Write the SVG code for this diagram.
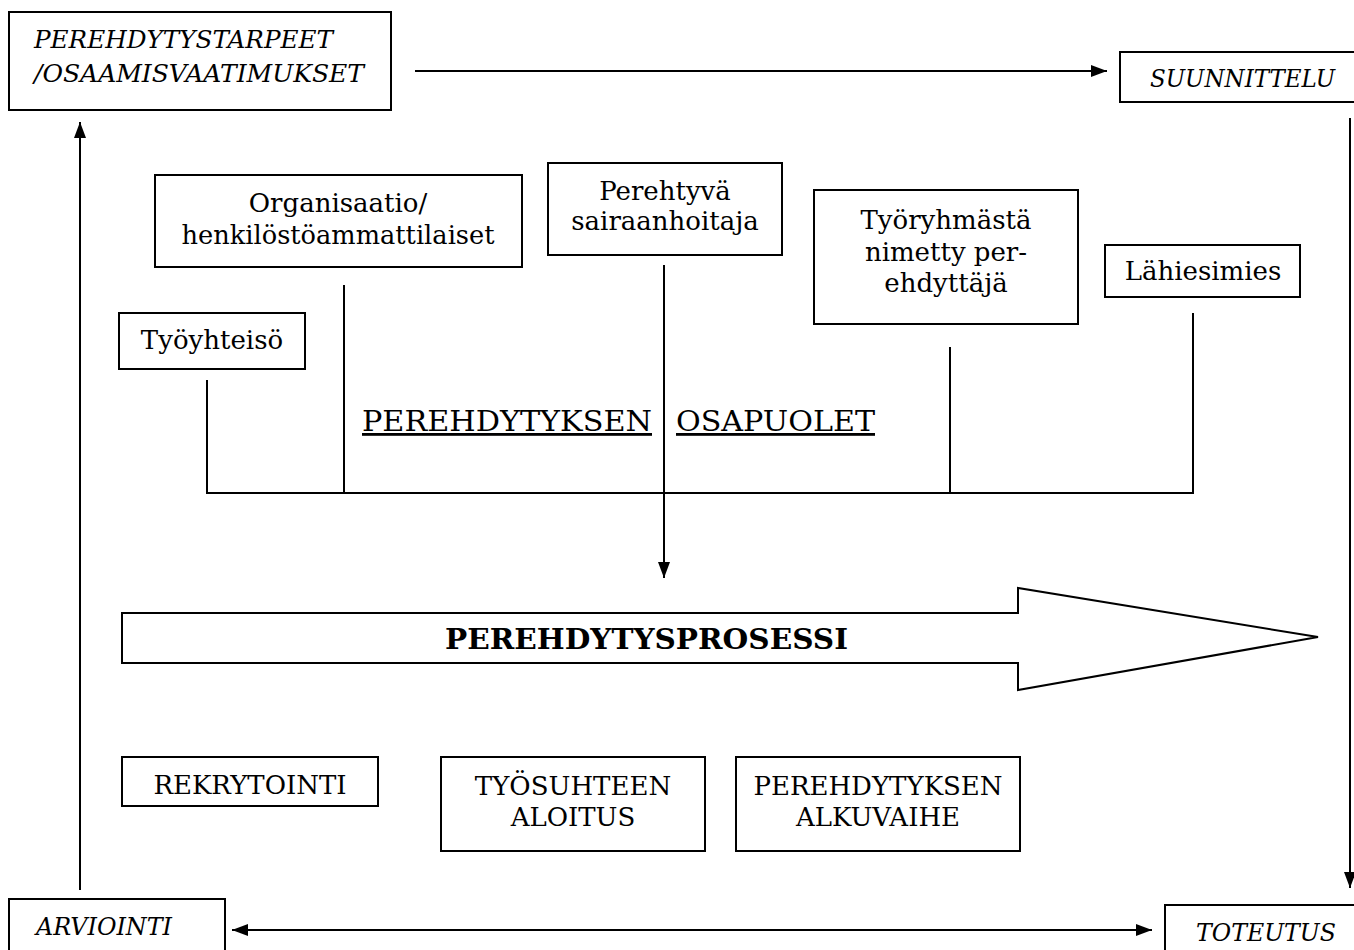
<svg xmlns="http://www.w3.org/2000/svg" width="1354" height="950" viewBox="0 0 1354 950">
<style>
.box{fill:#fff;stroke:#000;stroke-width:2}
.ln{fill:none;stroke:#000;stroke-width:2}
.t{font-family:"DejaVu Serif","Liberation Serif",serif;font-size:26px;fill:#000}
.c{text-anchor:middle}
.i{font-style:italic;font-size:25px}
.u{font-size:28px;text-decoration:underline}
.b{font-weight:bold;font-size:27px}
</style>
<defs>
<marker id="ah2" viewBox="0 0 16 12" refX="16" refY="6" markerWidth="16" markerHeight="12" markerUnits="userSpaceOnUse" orient="auto-start-reverse">
<path d="M0,0 L16,6 L0,12 z" fill="#000"/>
</marker>
</defs>

<g id="connectors">
<line class="ln" x1="415" y1="71" x2="1107" y2="71" marker-end="url(#ah2)"/>
<line class="ln" x1="1350" y1="118" x2="1350" y2="888" marker-end="url(#ah2)"/>
<line class="ln" x1="232" y1="930" x2="1152" y2="930" marker-start="url(#ah2)" marker-end="url(#ah2)"/>
<line class="ln" x1="80" y1="890" x2="80" y2="122" marker-end="url(#ah2)"/>
<line class="ln" x1="664" y1="265" x2="664" y2="578" marker-end="url(#ah2)"/>
<polyline class="ln" points="207,380 207,493 1193,493 1193,313"/>
<line class="ln" x1="344" y1="285" x2="344" y2="493"/>
<line class="ln" x1="950" y1="347" x2="950" y2="493"/>
</g>

<g id="n-tarpeet">
<rect class="box" x="9" y="12" width="382" height="98"/>
<text class="t i" x="34" y="48" textLength="299" lengthAdjust="spacingAndGlyphs">PEREHDYTYSTARPEET</text>
<text class="t i" x="34" y="82" textLength="330" lengthAdjust="spacingAndGlyphs">/OSAAMISVAATIMUKSET</text>
</g>

<g id="n-suunnittelu">
<rect class="box" x="1120" y="52" width="240" height="50"/>
<text class="t i" x="1150" y="87" textLength="185" lengthAdjust="spacingAndGlyphs">SUUNNITTELU</text>
</g>

<g id="n-toteutus">
<rect class="box" x="1165" y="905" width="200" height="50"/>
<text class="t i" x="1196" y="941" textLength="140" lengthAdjust="spacingAndGlyphs">TOTEUTUS</text>
</g>

<g id="n-arviointi">
<rect class="box" x="9" y="899" width="216" height="60"/>
<text class="t i" x="36" y="935" textLength="136" lengthAdjust="spacingAndGlyphs">ARVIOINTI</text>
</g>

<g id="n-organisaatio">
<rect class="box" x="155" y="175" width="367" height="92"/>
<text class="t c" x="338" y="212">Organisaatio/</text>
<text class="t c" x="338" y="244" textLength="313" lengthAdjust="spacingAndGlyphs">henkilöstöammattilaiset</text>
</g>

<g id="n-perehtyva">
<rect class="box" x="548" y="163" width="234" height="92"/>
<text class="t c" x="665" y="200">Perehtyvä</text>
<text class="t c" x="665" y="230">sairaanhoitaja</text>
</g>

<g id="n-tyoryhma">
<rect class="box" x="814" y="190" width="264" height="134"/>
<text class="t c" x="946" y="229">Työryhmästä</text>
<text class="t c" x="946" y="261">nimetty per-</text>
<text class="t c" x="946" y="292">ehdyttäjä</text>
</g>

<g id="n-lahiesimies">
<rect class="box" x="1105" y="245" width="195" height="52"/>
<text class="t c" x="1203" y="280">Lähiesimies</text>
</g>

<g id="n-tyoyhteiso">
<rect class="box" x="119" y="313" width="186" height="56"/>
<text class="t c" x="212" y="349">Työyhteisö</text>
</g>

<g id="label-osapuolet">
<text class="t u" x="362" y="431" textLength="290" lengthAdjust="spacingAndGlyphs">PEREHDYTYKSEN</text>
<text class="t u" x="676" y="431" textLength="199" lengthAdjust="spacingAndGlyphs">OSAPUOLET</text>
</g>

<g id="n-prosessi">
<path class="box" d="M122,613 L1018,613 L1018,588 L1318,637 L1018,690 L1018,663 L122,663 Z"/>
<text class="t b" x="445" y="649" textLength="403" lengthAdjust="spacingAndGlyphs">PEREHDYTYSPROSESSI</text>
</g>

<g id="n-rekrytointi">
<rect class="box" x="122" y="757" width="256" height="49"/>
<text class="t c" x="250" y="794">REKRYTOINTI</text>
</g>

<g id="n-tyosuhteen">
<rect class="box" x="441" y="757" width="264" height="94"/>
<text class="t c" x="573" y="795">TYÖSUHTEEN</text>
<text class="t c" x="573" y="826">ALOITUS</text>
</g>

<g id="n-alkuvaihe">
<rect class="box" x="736" y="757" width="284" height="94"/>
<text class="t c" x="878" y="795">PEREHDYTYKSEN</text>
<text class="t c" x="878" y="826">ALKUVAIHE</text>
</g>
</svg>
